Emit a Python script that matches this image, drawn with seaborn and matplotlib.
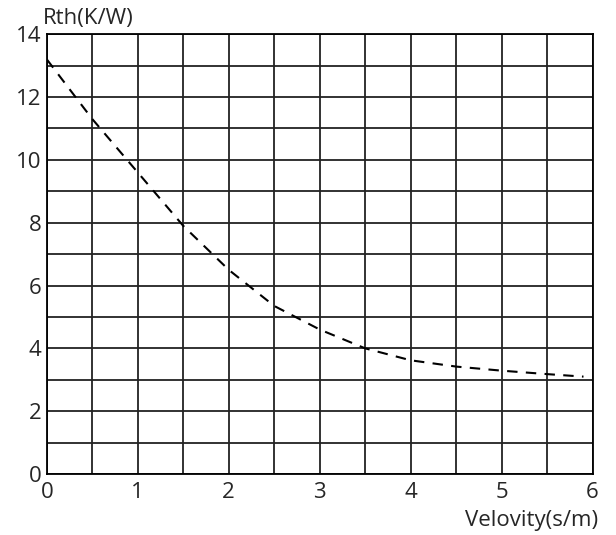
import seaborn as sns
import matplotlib.pyplot as plt
import pandas as pd
import numpy as np

# Curve values
velocity = [0.0, 0.5, 1.0, 1.5, 2.0, 2.5, 3.0, 3.5, 4.0, 4.5, 5.0, 5.5, 5.9]
rth = [13.2, 11.3, 9.6, 7.9, 6.5, 5.35, 4.6, 4.0, 3.62, 3.42, 3.29, 3.18, 3.1]

x_ticks = [0, 1, 2, 3, 4, 5, 6]
y_ticks = [0, 2, 4, 6, 8, 10, 12, 14]

df = pd.DataFrame({"velocity": velocity, "rth": rth})

sns.set_style("white")
plt.rcParams['font.family'] = ['Open Sans', 'DejaVu Sans']

fig, ax = plt.subplots(figsize=(6.16, 5.35), dpi=100)
fig.subplots_adjust(left=0.076, right=0.962, top=0.936, bottom=0.114)

sns.lineplot(data=df, x="velocity", y="rth", ax=ax, color="black",
             linestyle=(0, (5, 4)), linewidth=1.5)

ax.set_xlim(0, 6)
ax.set_ylim(0, 14)
ax.set_xticks(x_ticks)
ax.set_yticks(y_ticks)
ax.set_xticks(np.arange(0, 6.01, 0.5), minor=True)
ax.set_yticks(np.arange(0, 14.01, 1), minor=True)
ax.grid(which="both", color="#222222", linewidth=1.3)
ax.tick_params(which="both", length=0, labelsize=16, pad=4)
ax.tick_params(axis="x", pad=6)
for s in ax.spines.values():
    s.set_color("black")
    s.set_linewidth(1.3)

ax.set_xlabel("")
ax.set_ylabel("")
fig.text(0.07, 0.966, "Rth(K/W)", fontsize=16, ha="left", va="center")
fig.text(0.971, 0.028, "Velovity(s/m)", fontsize=16, ha="right", va="center")

fig.savefig("out.png", dpi=100)
